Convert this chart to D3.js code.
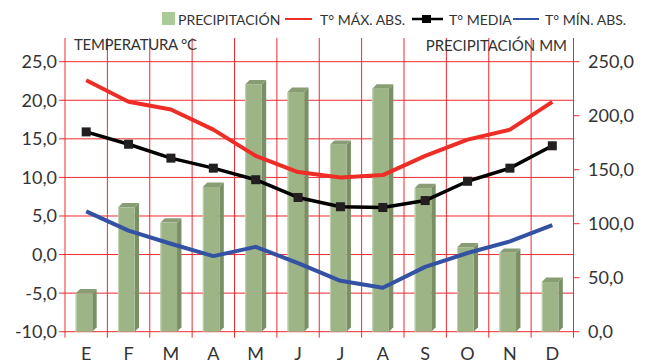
<!DOCTYPE html>
<html>
<head>
<meta charset="utf-8">
<script src="https://cdn.jsdelivr.net/npm/d3@7"></script>
<style>
  body { margin: 0; background: #fff; }
  svg { display: block; font-family: Lato, "Liberation Sans", sans-serif; }
</style>
</head>
<body>
<svg id="chart" width="651" height="360"></svg>
<script>
// data
let months = ['E', 'F', 'M', 'A', 'M', 'J', 'J', 'A', 'S', 'O', 'N', 'D'];
let precip = [35.5, 115, 101, 134, 229, 222, 173, 225, 133, 78, 73, 46];
let tMax = [22.6, 19.8, 18.8, 16.2, 12.8, 10.7, 10.0, 10.3, 12.8, 14.9, 16.2, 19.8];
let tMed = [15.9, 14.3, 12.5, 11.2, 9.7, 7.4, 6.2, 6.1, 7.0, 9.5, 11.2, 14.1];
let tMin = [5.6, 3.1, 1.4, -0.2, 1.0, -1.1, -3.4, -4.3, -1.6, 0.2, 1.7, 3.8];
let tempTicks = [-10, -5, 0, 5, 10, 15, 20, 25];
let precipTicks = [0, 50, 100, 150, 200, 250];

let plotLeft = 65, plotRight = 573.5, plotTop = 61.7, plotBottom = 331.7;
let gridColor = '#ee2a2f';
let fmt = function (v) { return v.toFixed(1).replace('.', ','); };

let svg = d3.select('#chart');

let x = d3.scaleBand().domain(d3.range(12)).range([plotLeft, plotRight]);
let yT = d3.scaleLinear().domain([-10, 25]).range([plotBottom, plotTop]);
let yP = d3.scaleLinear().domain([0, 250]).range([plotBottom, plotTop]);

// grid: horizontal lines at temperature ticks
let grid = svg.append('g').attr('stroke', gridColor).attr('stroke-width', 1);
tempTicks.forEach(function (t) {
  grid.append('line')
    .attr('x1', plotLeft - 6).attr('x2', plotRight)
    .attr('y1', yT(t)).attr('y2', yT(t));
});
// vertical lines at month boundaries, run past the bottom as ticks
d3.range(13).forEach(function (i) {
  let xx = i < 12 ? x(i) : plotRight;
  grid.append('line')
    .attr('x1', xx).attr('x2', xx)
    .attr('y1', 38).attr('y2', plotBottom + 6);
});
// right axis ticks
precipTicks.forEach(function (p) {
  grid.append('line')
    .attr('x1', plotRight).attr('x2', plotRight + 6)
    .attr('y1', yP(p)).attr('y2', yP(p));
});

// 3D bars
let bw = 16.6, depth = 4.4;
let bars = svg.append('g');
precip.forEach(function (p, i) {
  let cx = x(i) + x.bandwidth() / 2,
      x0 = cx - 10.5,
      y0 = yP(p);
  bars.append('path')
    .attr('d', 'M' + (x0 + bw) + ',' + y0 + 'L' + (x0 + bw + depth) + ',' + (y0 - depth) +
               'L' + (x0 + bw + depth) + ',' + (plotBottom - depth) + 'L' + (x0 + bw) + ',' + plotBottom + 'Z')
    .attr('fill', '#7b8f66');
  bars.append('path')
    .attr('d', 'M' + x0 + ',' + y0 + 'L' + (x0 + depth) + ',' + (y0 - depth) +
               'L' + (x0 + bw + depth) + ',' + (y0 - depth) + 'L' + (x0 + bw) + ',' + y0 + 'Z')
    .attr('fill', '#889d74');
  bars.append('rect')
    .attr('x', x0).attr('y', y0)
    .attr('width', bw).attr('height', plotBottom - y0)
    .attr('fill', '#9cb486');
  bars.append('line')
    .attr('x1', x0 + 0.5).attr('x2', x0 + 0.5)
    .attr('y1', y0).attr('y2', plotBottom)
    .attr('stroke', '#c4d4b4').attr('stroke-width', 1);
});

// temperature lines
let line = d3.line()
  .x(function (d, i) { return x(i) + x.bandwidth() / 2; })
  .y(function (d) { return yT(d); });

svg.append('path').datum(tMax)
  .attr('d', line).attr('fill', 'none')
  .attr('stroke', '#ee2d26').attr('stroke-width', 4).attr('stroke-linejoin', 'round');
svg.append('path').datum(tMin)
  .attr('d', line).attr('fill', 'none')
  .attr('stroke', '#3452a3').attr('stroke-width', 4).attr('stroke-linejoin', 'round');
svg.append('path').datum(tMed)
  .attr('d', line).attr('fill', 'none')
  .attr('stroke', '#000').attr('stroke-width', 3.5).attr('stroke-linejoin', 'round');
svg.append('g').selectAll('rect')
  .data(tMed).join('rect')
  .attr('x', function (d, i) { return x(i) + x.bandwidth() / 2 - 4.5; })
  .attr('y', function (d) { return yT(d) - 4.5; })
  .attr('width', 9).attr('height', 9)
  .attr('fill', '#231f20');

// axis labels
let txt = svg.append('g').attr('fill', '#333');
tempTicks.forEach(function (t) {
  txt.append('text')
    .attr('x', 57).attr('y', yT(t) + 6.5)
    .attr('text-anchor', 'end').attr('font-size', 18)
    .text(fmt(t));
});
precipTicks.forEach(function (p) {
  txt.append('text')
    .attr('x', 588).attr('y', yP(p) + 6.5)
    .attr('font-size', 18)
    .text(fmt(p));
});
months.forEach(function (m, i) {
  txt.append('text')
    .attr('x', x(i) + x.bandwidth() / 2).attr('y', 360)
    .attr('text-anchor', 'middle').attr('font-size', 18)
    .text(m);
});
txt.append('text').attr('x', 74).attr('y', 50).attr('font-size', 15)
  .attr('textLength', 123).text('TEMPERATURA °C');
txt.append('text').attr('x', 567).attr('y', 50.5).attr('font-size', 15)
  .attr('text-anchor', 'end').text('PRECIPITACIÓN MM');

// legend
let legend = svg.append('g');
legend.append('rect').attr('x', 162).attr('y', 12).attr('width', 13).attr('height', 13).attr('fill', '#aacb98');
legend.append('line').attr('x1', 285).attr('x2', 312).attr('y1', 19).attr('y2', 19)
  .attr('stroke', '#ee2d26').attr('stroke-width', 2);
legend.append('line').attr('x1', 412).attr('x2', 443).attr('y1', 19).attr('y2', 19)
  .attr('stroke', '#000').attr('stroke-width', 2.5);
legend.append('rect').attr('x', 422).attr('y', 15).attr('width', 9).attr('height', 8).attr('fill', '#000');
legend.append('line').attr('x1', 513).attr('x2', 539).attr('y1', 19).attr('y2', 19)
  .attr('stroke', '#3452a3').attr('stroke-width', 2);
[['PRECIPITACIÓN', 178], ['T° MÁX. ABS.', 320], ['T° MEDIA', 449], ['T° MÍN. ABS.', 545]].forEach(function (l) {
  legend.append('text').attr('x', l[1]).attr('y', 25).attr('font-size', 14)
    .attr('fill', '#333').text(l[0]);
});
</script>
</body>
</html>
